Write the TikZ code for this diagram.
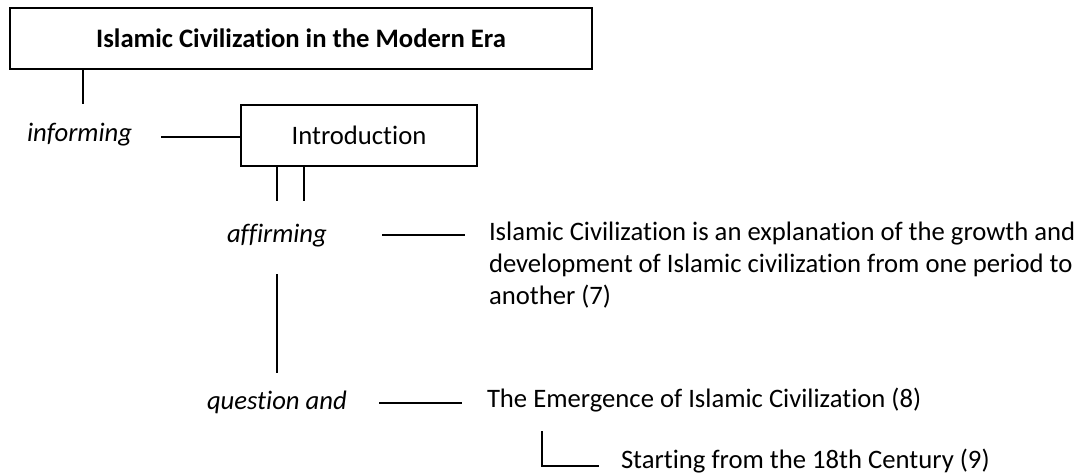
\documentclass[tikz,border=0pt]{standalone}
\usepackage{fontspec}
\setmainfont{Carlito}[Ligatures=NoCommon]
\begin{document}
\begin{tikzpicture}[x=0.75pt,y=-0.75pt,
  every node/.style={inner sep=0pt,outer sep=0pt,font=\fontsize{20}{24}\selectfont},
  ln/.style={line width=1.5pt},
  boxnode/.style={draw,line width=1.5pt,anchor=north west},
  lbl/.style={anchor=base west,font=\fontsize{20}{24}\selectfont\itshape},
  txt/.style={anchor=base west,align=left}]
\useasboundingbox (0,0) rectangle (1081,474);
% title box
\node[boxnode,minimum width=582*0.75pt,minimum height=61*0.75pt] (title) at (10,8) {};
\node[font=\fontsize{20}{24}\selectfont\bfseries] (titletext) at (title.center) {Islamic Civilization in the Modern Era};
\coordinate (t1) at (83,69);
\coordinate (t2) at (83,104);
\draw[ln] (t1) -- (t2);
% informing
\node[lbl] (inform) at (27,142) {informing};
\coordinate (i1) at (161,137);
% introduction box
\node[boxnode,minimum width=236*0.75pt,minimum height=61*0.75pt] (intro) at (241,105) {};
\node (introtext) at (intro.center) {Introduction};
\draw[ln] (i1) -- (i1 -| intro.west);
\coordinate (v1) at (277,201);
\coordinate (v2) at (304,201);
\draw[ln] (v1 |- intro.south) -- (v1);
\draw[ln] (v2 |- intro.south) -- (v2);
% affirming
\node[lbl] (affirm) at (227,242) {affirming};
\coordinate (a1) at (382,235);
\coordinate (a2) at (465,235);
\draw[ln] (a1) -- (a2);
\node[txt] (para) at (489,304) {Islamic Civilization is an explanation of the growth and\\development of Islamic civilization from one period to\\another (7)};
% vertical between affirming and question
\coordinate (q0) at (277,274);
\coordinate (q1) at (277,373);
\draw[ln] (q0) -- (q1);
% question and
\node[lbl] (quest) at (207,409) {question and};
\coordinate (b1) at (379,403);
\coordinate (b2) at (462,403);
\draw[ln] (b1) -- (b2);
\node[txt] (emerg) at (487,407) {The Emergence of Islamic Civilization (8)};
% corner
\coordinate (c1) at (542,431);
\coordinate (c2) at (542,466);
\coordinate (c3) at (599,466);
\draw[ln] (c1) -- (c2) -- (c3);
\node[txt] (start) at (621,468) {Starting from the 18th Century (9)};
\end{tikzpicture}
\end{document}
